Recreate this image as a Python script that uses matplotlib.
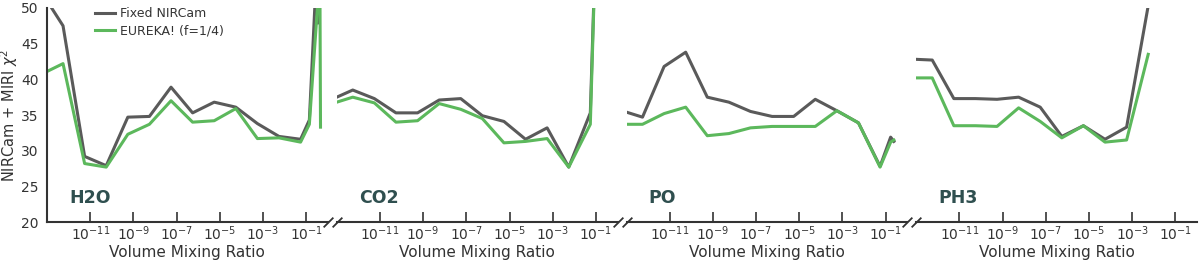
import matplotlib
matplotlib.use('Agg')
import matplotlib.pyplot as plt
from matplotlib.ticker import NullLocator

GRAY = '#5a5a5a'
GREEN = '#5cb85c'
LABEL_C = '#2f4f4f'
INK = '#333333'

plt.rcParams.update({
    'text.color': INK, 'axes.labelcolor': INK,
    'xtick.color': INK, 'ytick.color': INK,
})

# volume mixing ratio grid shared by the retrieval runs
vmr = [1e-13, 5.5e-13, 5.5e-12, 5.5e-11, 5.5e-10, 5.5e-9, 5.5e-8,
       5.5e-7, 5.5e-6, 5.5e-5, 5.5e-4, 5.5e-3, 5.5e-2]

molecules = ['H2O', 'CO2', 'PO', 'PH3']
xticks = [1e-11, 1e-9, 1e-7, 1e-5, 1e-3, 1e-1]

# H2O
h2o_x_fixed = vmr + [0.14, 0.30, 0.34]
h2o_fixed = [51.0, 47.5, 29.2, 27.9, 34.7, 34.8, 38.9, 35.3, 36.8, 36.1,
             33.8, 32.0, 31.6, 34.3, 55.0, 47.9]
h2o_x_eureka = vmr + [0.14, 0.43, 0.46]
h2o_eureka = [41.1, 42.2, 28.2, 27.7, 32.3, 33.7, 37.0, 34.0, 34.2, 35.9,
              31.7, 31.8, 31.2, 33.7, 55.0, 33.3]

# CO2
co2_x = vmr + [0.14]
co2_fixed = [37.5, 38.5, 37.3, 35.3, 35.3, 37.1, 37.3, 34.9, 34.1, 31.6,
             33.2, 27.7, 35.3, 75.0]
co2_eureka = [36.8, 37.5, 36.7, 34.0, 34.2, 36.6, 35.8, 34.5, 31.1, 31.3,
              31.7, 27.7, 33.7, 75.0]

# PO
po_x = vmr + [0.17, 0.24]
po_fixed = [35.4, 34.7, 41.8, 43.8, 37.5, 36.8, 35.5, 34.8, 34.8, 37.2,
            35.6, 33.9, 27.8, 31.9, 31.3]
po_eureka = [33.7, 33.7, 35.2, 36.1, 32.1, 32.4, 33.2, 33.4, 33.4, 33.4,
             35.6, 33.9, 27.7, 31.2, 31.5]

# PH3
ph3_x = vmr[:12]
ph3_fixed = [42.8, 42.7, 37.3, 37.3, 37.2, 37.5, 36.1, 32.0, 33.5, 31.6,
             33.3, 50.3]
ph3_eureka = [40.2, 40.2, 33.5, 33.5, 33.4, 36.0, 34.1, 31.8, 33.5, 31.2,
              31.5, 43.5]

panels = [
    (h2o_x_fixed, h2o_fixed, h2o_x_eureka, h2o_eureka),
    (co2_x, co2_fixed, co2_x, co2_eureka),
    (po_x, po_fixed, po_x, po_eureka),
    (ph3_x, ph3_fixed, ph3_x, ph3_eureka),
]

fig, axes = plt.subplots(1, 4, figsize=(12, 2.65), dpi=100, sharey=True)
fig.subplots_adjust(left=0.0392, right=0.9975, bottom=0.162, top=0.970, wspace=0.032)

for i, (ax, name, (xf, yf, xe, ye)) in enumerate(zip(axes, molecules, panels)):
    ax.plot(xf, yf, color=GRAY, lw=2.2, label='Fixed NIRCam')
    ax.plot(xe, ye, color=GREEN, lw=2.2, label='EUREKA! (f=1/4)')
    ax.set_xscale('log')
    ax.set_xlim(1e-13, 1)
    ax.set_ylim(20, 50)
    ax.set_xticks(xticks)
    ax.xaxis.set_minor_locator(NullLocator())
    ax.tick_params(axis='x', direction='in', length=7, width=1.2, labelsize=10, pad=2)
    ax.tick_params(axis='y', length=0, labelsize=10, pad=6)
    for s in ['top', 'right']:
        ax.spines[s].set_visible(False)
    ax.spines['bottom'].set_linewidth(1.5)
    ax.spines['bottom'].set_color(INK)
    ax.spines['left'].set_linewidth(1.5)
    ax.spines['left'].set_color(INK)
    if i > 0:
        ax.spines['left'].set_visible(False)
    ax.set_xlabel('Volume Mixing Ratio', fontsize=11, labelpad=1)
    ax.text(0.079, 0.112, name, transform=ax.transAxes, fontsize=12.5,
            fontweight='bold', color=LABEL_C, va='center', ha='left')

# broken-axis marks between panels
kw = dict(marker=[(-1, -1), (1, 1)], markersize=7, linestyle='none',
          color=INK, mec=INK, mew=1.3, clip_on=False)
for i in range(3):
    axes[i].plot([1], [0], transform=axes[i].transAxes, **kw)
    axes[i + 1].plot([0], [0], transform=axes[i + 1].transAxes, **kw)

axes[0].set_yticks([20, 25, 30, 35, 40, 45, 50])
axes[0].set_ylabel('NIRCam + MIRI $\\chi^2$', fontsize=10.5, labelpad=1)
axes[0].legend(loc='upper left', bbox_to_anchor=(0.17, 1.005), frameon=False,
               fontsize=9, handlelength=1.6, handletextpad=0.4,
               borderaxespad=0, borderpad=0, labelspacing=0.35)

fig.savefig('out.png')
